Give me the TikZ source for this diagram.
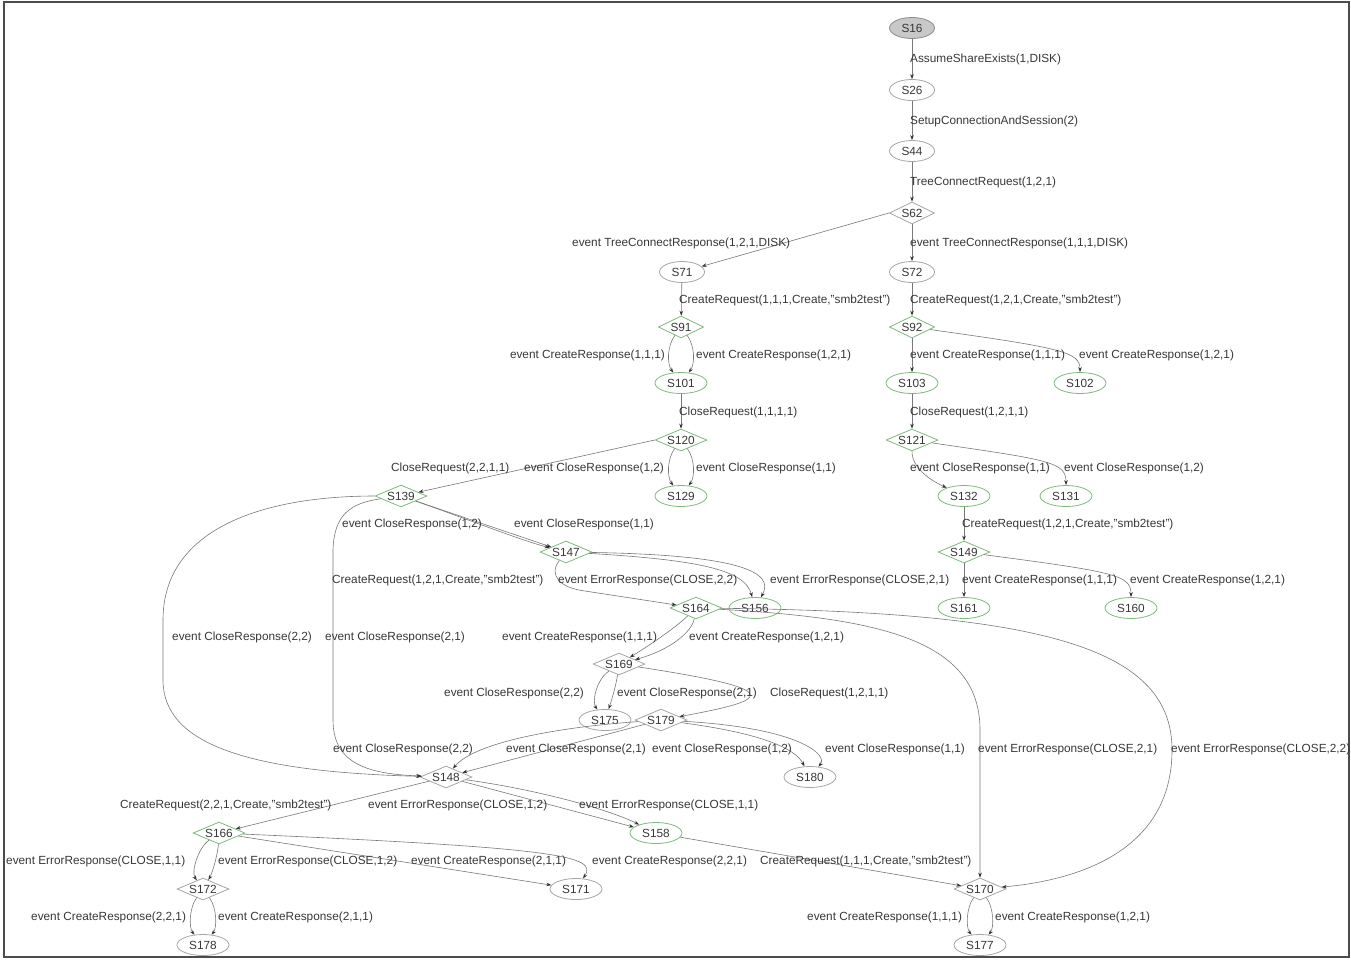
\documentclass[tikz,border=0pt]{standalone}
\usepackage{fontspec}
\setmainfont{Liberation Sans}
\usetikzlibrary{shapes.geometric,arrows.meta}
\definecolor{grn}{RGB}{125,185,125}
\definecolor{gcol}{RGB}{165,165,165}
\definecolor{lcol}{RGB}{120,120,120}
\definecolor{txt}{RGB}{55,55,55}
\definecolor{sfill}{RGB}{200,200,200}
\newcommand\dgfont{\fontsize{11.8}{14}\selectfont}
\begin{document}
\begin{tikzpicture}[x=1pt,y=-1pt,
 st/.style={ellipse,draw=gcol,line width=0.8pt,inner xsep=4.6pt,inner ysep=3pt,minimum width=45pt,minimum height=21pt,text=txt,font=\dgfont},
 stg/.style={st,draw=grn},
 ch/.style={diamond,draw=gcol,line width=0.8pt,aspect=2.9,inner sep=0pt,minimum width=44pt,minimum height=22pt,text=txt,font=\dgfont},
 chg/.style={ch,draw=grn},
 edge/.style={draw=lcol,line width=0.6pt,-{Stealth[length=5pt,width=3.6pt,color=black!80]}},
 lbl/.style={anchor=west,inner sep=0pt,text=txt,font=\dgfont}]
\useasboundingbox (0,0) rectangle (1351,959);
\draw[line width=1.4pt,black!70] (4,2) rectangle (1349,957);

% states
\node[st,fill=sfill,draw=black!45] (S16) at (912,28) {S16};
\node[st] (S26) at (912,90) {S26};
\node[st] (S44) at (912,151) {S44};
\node[ch] (S62) at (912,213) {S62};
\node[st] (S71) at (682,272) {S71};
\node[st] (S72) at (912,272) {S72};
\node[chg] (S91) at (681,327) {S91};
\node[chg] (S92) at (912,327) {S92};
\node[stg] (S101) at (681,383) {S101};
\node[stg] (S103) at (912,383) {S103};
\node[stg] (S102) at (1080,383) {S102};
\node[chg] (S120) at (681,440) {S120};
\node[chg] (S121) at (912,440) {S121};
\node[stg] (S129) at (681,496) {S129};
\node[chg] (S139) at (401,496) {S139};
\node[stg] (S132) at (964,496) {S132};
\node[stg] (S131) at (1066,496) {S131};
\node[chg] (S147) at (566,552) {S147};
\node[chg] (S149) at (964,552) {S149};
\node[chg] (S164) at (696,608) {S164};
\node[stg] (S156) at (755,608) {S156};
\node[stg] (S161) at (964,608) {S161};
\node[stg] (S160) at (1131,608) {S160};
\node[ch] (S169) at (619,664) {S169};
\node[st] (S175) at (605,720) {S175};
\node[ch] (S179) at (661,720) {S179};
\node[st] (S180) at (810,777) {S180};
\node[ch] (S148) at (446,777) {S148};
\node[chg] (S166) at (219,833) {S166};
\node[stg] (S158) at (656,833) {S158};
\node[ch] (S172) at (203,889) {S172};
\node[st] (S171) at (576,889) {S171};
\node[ch] (S170) at (980,889) {S170};
\node[st] (S178) at (203,945) {S178};
\node[st] (S177) at (980,945) {S177};

% transitions
\draw[edge] (S16) -- (S26);
\draw[edge] (S26) -- (S44);
\draw[edge] (S44) -- (S62);
\draw[edge] (S62.west) -- (S71);
\draw[edge] (S62) -- (S72);
\draw[edge] (S71) -- (S91);
\draw[edge] (S72) -- (S92);
\draw[edge] (S91) .. controls (667,346) and (667,364) .. (S101);
\draw[edge] (S91) .. controls (695,346) and (695,364) .. (S101);
\draw[edge] (S92) -- (S103);
\draw[edge] (S92) .. controls (1062,348) and (1080,352) .. (S102);
\draw[edge] (S101) -- (S120);
\draw[edge] (S103) -- (S121);
\draw[edge] (S120) .. controls (667,459) and (667,477) .. (S129);
\draw[edge] (S120) .. controls (695,459) and (695,477) .. (S129);
\draw[edge] (S120.west) -- (S139);
\draw[edge] (S121) .. controls (912,468) and (930,480) .. (S132);
\draw[edge] (S121) .. controls (1050,460) and (1066,462) .. (S131);
\draw[edge] (S132) -- (S149);
\draw[edge] (S139) -- (S147);
\draw[edge] (S139) .. controls (470,520) and (520,540) .. (S147);
\draw[edge] (S139.west) .. controls (260,496) and (163,530) .. (163,620) -- (163,680) .. controls (163,745) and (250,772) .. (S148);
\draw[edge] (S139) .. controls (350,503) and (334,515) .. (333,550) -- (333,720) .. controls (333,765) and (370,774) .. (S148);
\draw[edge] (S147) .. controls (700,560) and (745,570) .. (S156);
\draw[edge] (S147) .. controls (740,555) and (775,572) .. (S156);
\draw[edge] (S147) .. controls (548,575) and (560,588) .. (585,591) -- (S164);
\draw[edge] (S149) -- (S161);
\draw[edge] (S149) .. controls (1115,572) and (1131,575) .. (S160);
\draw[edge] (S164) .. controls (675,628) and (650,645) .. (S169);
\draw[edge] (S164) .. controls (692,632) and (670,650) .. (S169);
\draw[edge] (S164) .. controls (880,618) and (980,640) .. (980,730) -- (S170);
\draw[edge] (S164) .. controls (1050,612) and (1172,650) .. (1172,750) .. controls (1172,850) and (1080,880) .. (S170);
\draw[edge] (S169) .. controls (596,680) and (592,702) .. (S175);
\draw[edge] (S169) .. controls (616,686) and (611,702) .. (S175);
\draw[edge] (S169) .. controls (790,690) and (770,700) .. (S179);
\draw[edge] (S179) .. controls (760,733) and (795,748) .. (S180);
\draw[edge] (S179) .. controls (800,728) and (828,755) .. (S180);
\draw[edge] (S179) .. controls (560,727) and (475,742) .. (S148);
\draw[edge] (S179) -- (S148);
\draw[edge] (S148) -- (S166);
\draw[edge] (S148) -- (S158);
\draw[edge] (S148) .. controls (540,790) and (610,810) .. (S158);
\draw[edge] (S158) -- (S170);
\draw[edge] (S166) .. controls (198,848) and (191,872) .. (S172);
\draw[edge] (S166) .. controls (218,852) and (213,872) .. (S172);
\draw[edge] (S166) -- (S171);
\draw[edge] (S166) .. controls (560,848) and (598,856) .. (S171);
\draw[edge] (S172) .. controls (189,908) and (189,928) .. (S178);
\draw[edge] (S172) .. controls (217,908) and (217,928) .. (S178);
\draw[edge] (S170) .. controls (966,908) and (966,928) .. (S177);
\draw[edge] (S170) .. controls (994,908) and (994,928) .. (S177);

% labels
\node[lbl] (l1) at (910,59) {AssumeShareExists(1,DISK)};
\node[lbl] (l2) at (910,121) {SetupConnectionAndSession(2)};
\node[lbl] (l3) at (910,182) {TreeConnectRequest(1,2,1)};
\node[lbl] (l4) at (572,243) {event TreeConnectResponse(1,2,1,DISK)};
\node[lbl] (l5) at (910,243) {event TreeConnectResponse(1,1,1,DISK)};
\node[lbl] (l6) at (679,300) {CreateRequest(1,1,1,Create,"smb2test")};
\node[lbl] (l7) at (910,300) {CreateRequest(1,2,1,Create,"smb2test")};
\node[lbl,anchor=east] (l8) at (665,355) {event CreateResponse(1,1,1)};
\node[lbl] (l9) at (696,355) {event CreateResponse(1,2,1)};
\node[lbl] (l10) at (910,355) {event CreateResponse(1,1,1)};
\node[lbl] (l11) at (1079,355) {event CreateResponse(1,2,1)};
\node[lbl] (l12) at (679,412) {CloseRequest(1,1,1,1)};
\node[lbl] (l13) at (910,412) {CloseRequest(1,2,1,1)};
\node[lbl] (l14) at (391,468) {CloseRequest(2,2,1,1)};
\node[lbl] (l15) at (524,468) {event CloseResponse(1,2)};
\node[lbl] (l16) at (696,468) {event CloseResponse(1,1)};
\node[lbl] (l17) at (910,468) {event CloseResponse(1,1)};
\node[lbl] (l18) at (1064,468) {event CloseResponse(1,2)};
\node[lbl] (l19) at (342,524) {event CloseResponse(1,2)};
\node[lbl] (l20) at (514,524) {event CloseResponse(1,1)};
\node[lbl] (l21) at (962,524) {CreateRequest(1,2,1,Create,"smb2test")};
\node[lbl] (l22) at (332,580) {CreateRequest(1,2,1,Create,"smb2test")};
\node[lbl] (l23) at (558,580) {event ErrorResponse(CLOSE,2,2)};
\node[lbl] (l24) at (770,580) {event ErrorResponse(CLOSE,2,1)};
\node[lbl] (l25) at (962,580) {event CreateResponse(1,1,1)};
\node[lbl] (l26) at (1130,580) {event CreateResponse(1,2,1)};
\node[lbl] (l27) at (172,637) {event CloseResponse(2,2)};
\node[lbl] (l28) at (325,637) {event CloseResponse(2,1)};
\node[lbl] (l29) at (502,637) {event CreateResponse(1,1,1)};
\node[lbl] (l30) at (689,637) {event CreateResponse(1,2,1)};
\node[lbl] (l31) at (444,693) {event CloseResponse(2,2)};
\node[lbl] (l32) at (617,693) {event CloseResponse(2,1)};
\node[lbl] (l33) at (770,693) {CloseRequest(1,2,1,1)};
\node[lbl] (l34) at (333,749) {event CloseResponse(2,2)};
\node[lbl] (l35) at (506,749) {event CloseResponse(2,1)};
\node[lbl] (l36) at (652,749) {event CloseResponse(1,2)};
\node[lbl] (l37) at (825,749) {event CloseResponse(1,1)};
\node[lbl] (l38) at (978,749) {event ErrorResponse(CLOSE,2,1)};
\node[lbl] (l39) at (1171,749) {event ErrorResponse(CLOSE,2,2)};
\node[lbl] (l40) at (120,805) {CreateRequest(2,2,1,Create,"smb2test")};
\node[lbl] (l41) at (368,805) {event ErrorResponse(CLOSE,1,2)};
\node[lbl] (l42) at (579,805) {event ErrorResponse(CLOSE,1,1)};
\node[lbl] (l43) at (6,861) {event ErrorResponse(CLOSE,1,1)};
\node[lbl] (l44) at (218,861) {event ErrorResponse(CLOSE,1,2)};
\node[lbl] (l45) at (411,861) {event CreateResponse(2,1,1)};
\node[lbl] (l46) at (592,861) {event CreateResponse(2,2,1)};
\node[lbl] (l47) at (760,861) {CreateRequest(1,1,1,Create,"smb2test")};
\node[lbl] (l48) at (31,917) {event CreateResponse(2,2,1)};
\node[lbl] (l49) at (218,917) {event CreateResponse(2,1,1)};
\node[lbl] (l50) at (807,917) {event CreateResponse(1,1,1)};
\node[lbl] (l51) at (995,917) {event CreateResponse(1,2,1)};
\end{tikzpicture}
\end{document}
